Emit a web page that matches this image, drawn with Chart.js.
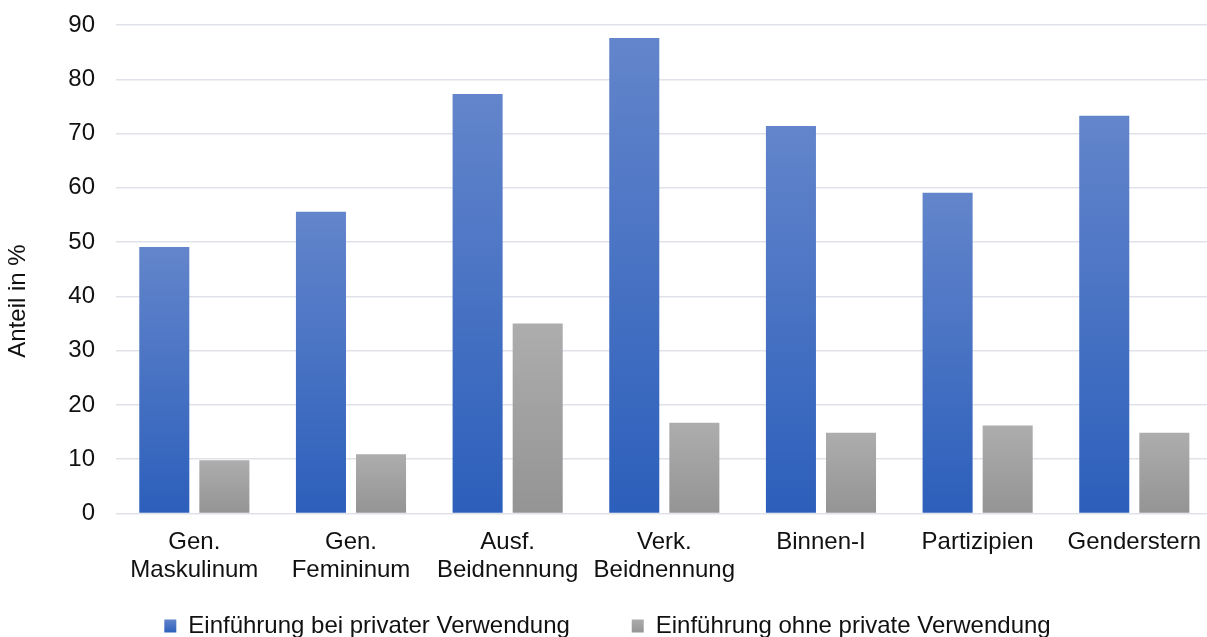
<!DOCTYPE html>
<html>
<head>
<meta charset="utf-8">
<script src="https://cdn.jsdelivr.net/npm/chart.js@4.4.1/dist/chart.umd.min.js"></script>
<style>
  html, body { margin: 0; padding: 0; overflow: hidden; background: #fff; }
  #wrap { position: relative; width: 1215px; height: 648px; }
</style>
</head>
<body>
<div id="wrap"><canvas id="c"></canvas></div>
<script>
const categories = [
  ['Gen.', 'Maskulinum'],
  ['Gen.', 'Femininum'],
  ['Ausf.', 'Beidnennung'],
  ['Verk.', 'Beidnennung'],
  'Binnen-I',
  'Partizipien',
  'Genderstern'
];
const seriesNames = ['Einführung bei privater Verwendung', 'Einführung ohne private Verwendung'];
const withPrivate = [49.1, 55.6, 77.3, 87.6, 71.4, 59.1, 73.3];
const withoutPrivate = [9.8, 10.9, 35.0, 16.7, 14.9, 16.2, 14.9];
const yTitle = 'Anteil in %';
const yMin = 0, yMax = 90, yStep = 10;

const FONT = '"Liberation Sans", Arial, sans-serif';
const FS = 24;
const TXT = '#111111';
const BLUE = ['#6385cb', '#2c5fbb'];
const GRAY = ['#adadad', '#949494'];

function barGradient(cols) {
  return (ctx) => {
    const chart = ctx.chart;
    const area = chart.chartArea;
    if (!area || ctx.type !== 'data') return cols[1];
    const ys = chart.scales.y;
    const top = ys.getPixelForValue(ctx.raw);
    const bot = ys.getPixelForValue(0);
    const g = chart.ctx.createLinearGradient(0, top, 0, bot);
    g.addColorStop(0, cols[0]);
    g.addColorStop(1, cols[1]);
    return g;
  };
}

const yTitlePlugin = {
  id: 'yTitlePlugin',
  afterDraw(chart) {
    const c = chart.ctx;
    c.save();
    c.translate(18, 301);
    c.rotate(-Math.PI / 2);
    c.font = FS + 'px ' + FONT;
    c.fillStyle = TXT;
    c.textAlign = 'center';
    c.textBaseline = 'middle';
    c.fillText(yTitle, 0, 0);
    c.restore();
  }
};

new Chart(document.getElementById('c'), {
  type: 'bar',
  data: {
    labels: categories,
    datasets: [
      { label: seriesNames[0], data: withPrivate, backgroundColor: barGradient(BLUE), borderWidth: 0 },
      { label: seriesNames[1], data: withoutPrivate, backgroundColor: barGradient(GRAY), borderWidth: 0 }
    ]
  },
  options: {
    responsive: true,
    maintainAspectRatio: false,
    animation: false,
    devicePixelRatio: 1,
    layout: { padding: { top: 25, left: 0, right: 0, bottom: 0 } },
    datasets: { bar: { categoryPercentage: 0.767, barPercentage: 0.833 } },
    plugins: {
      tooltip: { enabled: false },
      legend: {
        position: 'bottom',
        labels: {
          font: { family: FONT, size: FS },
          color: TXT,
          boxWidth: 12,
          boxHeight: 13,
          padding: 28.5,
          generateLabels(chart) {
            const cols = [BLUE, GRAY];
            return chart.data.datasets.map((ds, i) => {
              const g = chart.ctx.createLinearGradient(0, 619, 0, 633);
              g.addColorStop(0, cols[i][0]);
              g.addColorStop(1, cols[i][1]);
              return {
                text: i === 0 ? ds.label + '     ' : ds.label,
                fillStyle: g,
                strokeStyle: 'rgba(0,0,0,0)',
                lineWidth: 0,
                fontColor: TXT,
                hidden: false,
                datasetIndex: i
              };
            });
          }
        }
      }
    },
    scales: {
      x: {
        grid: { display: false, drawTicks: false },
        border: { display: false },
        ticks: {
          font: { family: FONT, size: FS, lineHeight: 1.2 },
          color: TXT,
          padding: 14,
          maxRotation: 0,
          autoSkip: false
        },
        afterFit(scale) { scale.height = 72; }
      },
      y: {
        min: yMin,
        max: yMax,
        border: { display: false },
        grid: { color: '#dfe3e9', lineWidth: 1.5, drawTicks: false },
        ticks: {
          stepSize: yStep,
          font: { family: FONT, size: FS },
          color: TXT,
          padding: 21
        },
        afterFit(scale) {
          scale.width = 116;
          scale.paddingTop = 0;
          scale.paddingBottom = 0;
        }
      }
    }
  },
  plugins: [yTitlePlugin]
});
</script>
</body>
</html>
